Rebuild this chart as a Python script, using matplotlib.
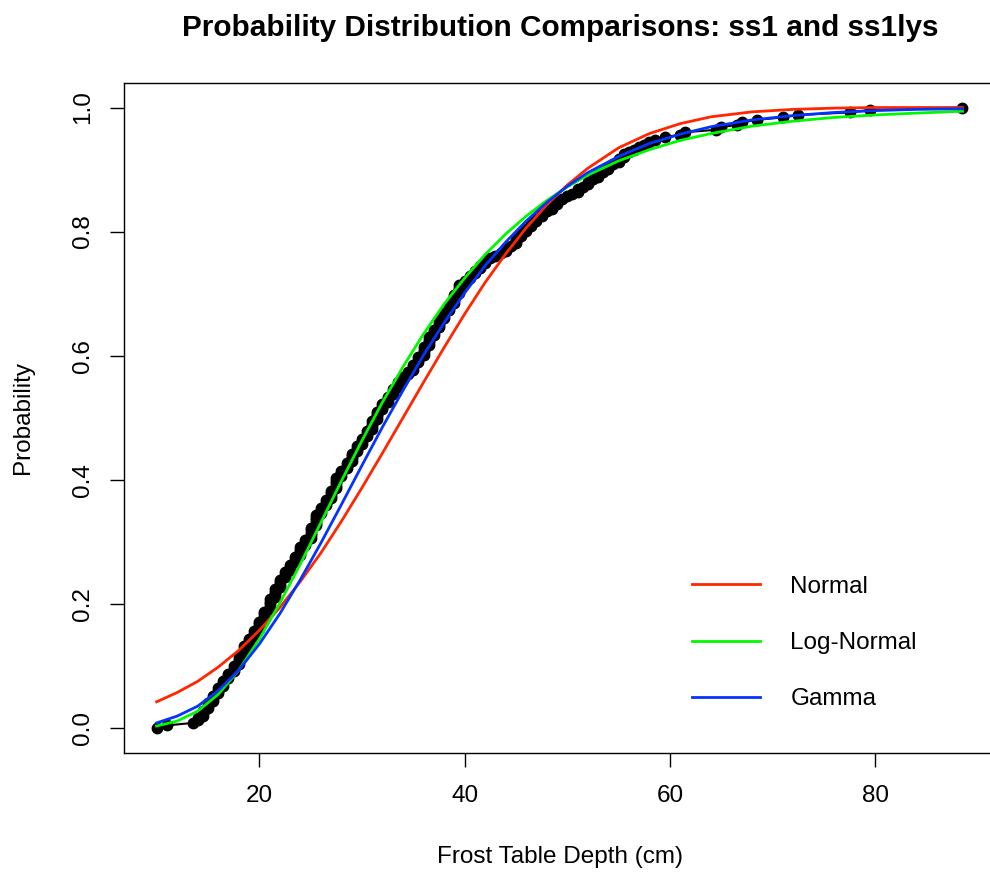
import numpy as np
import matplotlib
matplotlib.use("Agg")
import matplotlib.pyplot as plt

# frost table depths (cm), sorted, with number of ties at each value
depth_values = [10.0, 11.0, 13.5,
                14.0, 14.5, 15.0, 15.5, 16.0, 16.5, 17.0, 17.5,
                18.0, 18.5, 19.0, 19.5, 20.0, 20.5, 21.0, 21.5,
                22.0, 22.5, 23.0, 23.5, 24.0, 24.5, 25.0, 25.5,
                26.0, 26.5, 27.0, 27.5, 28.0, 28.5, 29.0, 29.5,
                30.0, 30.5, 31.0, 31.5, 32.0, 32.5, 33.0, 33.5,
                34.0, 34.5, 35.0, 35.5, 36.0, 36.5, 37.0, 37.5,
                38.0, 38.5, 39.0, 39.5, 40.0, 40.5, 41.0, 41.5,
                42.0, 42.5, 43.0, 43.5, 44.0, 44.5, 45.0, 45.5,
                46.0, 46.5, 47.0, 47.5, 48.0, 48.5, 49.0, 49.5,
                50.0, 50.5, 51.0, 51.5, 52.0, 52.5, 53.0, 53.5,
                54.0, 54.5, 55.0, 55.5,
                56.0, 56.5, 57.0, 57.5, 58.0, 58.5, 59.5, 61.0, 61.5,
                64.5, 65.0, 66.5, 67.0, 68.5, 71.0, 72.5, 77.5, 79.5, 88.5]
depth_counts = [1, 1, 1,
                2, 3, 3, 3, 3, 3, 3, 3,
                4, 4, 3, 3, 4, 4, 5, 4,
                4, 3, 3, 3, 4, 3, 5, 5,
                3, 3, 4, 5, 3, 3, 4, 3,
                3, 3, 4, 4, 3, 3, 3, 3,
                2, 2, 3, 3, 4, 4, 3, 4,
                3, 3, 4, 4, 2, 2, 2, 2,
                2, 1, 1, 1, 2, 1, 3, 2,
                2, 2, 2, 2, 1, 2, 2, 1,
                1, 1, 2, 1, 2, 1, 2, 1,
                2, 1, 2, 2,
                1, 1, 1, 1, 1, 1, 1, 1, 1,
                1, 1, 1, 1, 1, 1, 1, 1, 1, 1]

# fitted distribution curves
curve_x = [10, 12, 14, 16, 18, 20, 22, 24, 26, 28, 30, 32, 34, 36, 38, 40,
           42, 44, 46, 48, 50, 52, 55, 58, 61, 64, 68, 72, 76, 80, 84, 88.5]
normal_cdf = [0.042, 0.057, 0.075, 0.098, 0.125, 0.157, 0.194, 0.236, 0.282, 0.333,
              0.387, 0.443, 0.500, 0.557, 0.613, 0.667, 0.718, 0.764, 0.806, 0.843,
              0.875, 0.902, 0.935, 0.958, 0.974, 0.985, 0.993, 0.997, 0.999, 1.0,
              1.0, 1.0]
lognormal_cdf = [0.003, 0.011, 0.027, 0.054, 0.093, 0.143, 0.201, 0.264, 0.331, 0.398,
                 0.463, 0.525, 0.582, 0.635, 0.683, 0.725, 0.763, 0.796, 0.825, 0.850,
                 0.872, 0.891, 0.914, 0.932, 0.947, 0.958, 0.970, 0.978, 0.984, 0.988,
                 0.991, 0.994]
gamma_cdf = [0.008, 0.019, 0.035, 0.060, 0.093, 0.135, 0.184, 0.239, 0.298, 0.360,
             0.423, 0.485, 0.544, 0.601, 0.653, 0.701, 0.745, 0.783, 0.817, 0.847,
             0.873, 0.895, 0.921, 0.942, 0.957, 0.969, 0.980, 0.987, 0.992, 0.995,
             0.997, 0.998]

x_ticks = [20, 40, 60, 80]
y_ticks = [0.0, 0.2, 0.4, 0.6, 0.8, 1.0]

plt.rcParams['font.family'] = ['Liberation Sans', 'DejaVu Sans']

W, H = 990, 872
fig = plt.figure(figsize=(W / 100, H / 100), dpi=100)
# plot box in pixels: left 124, right 995 (runs past the edge), top 83, bottom 753
ax = fig.add_axes([124.4 / W, 1 - 752.7 / H, (994.7 - 124.4) / W, (752.7 - 82.7) / H])

depth = np.repeat(depth_values, depth_counts)
prob = np.arange(len(depth)) / (len(depth) - 1)

ax.plot(depth, prob, '-o', color='black', lw=1.5, ms=7.5, zorder=2)
l1, = ax.plot(curve_x, normal_cdf, color='#FF2600', lw=2.0, zorder=3, label='Normal')
l2, = ax.plot(curve_x, lognormal_cdf, color='#00F900', lw=2.0, zorder=3, label='Log-Normal')
l3, = ax.plot(curve_x, gamma_cdf, color='#0433FF', lw=2.0, zorder=3, label='Gamma')

# R style 4% padding
span = depth.max() - depth.min()
ax.set_xlim(depth.min() - 0.04 * span, depth.max() + 0.04 * span)
ax.set_ylim(-0.04, 1.04)

ax.set_xticks(x_ticks)
ax.set_xticklabels([str(v) for v in x_ticks])
ax.set_yticks(y_ticks)
ax.set_yticklabels(['%.1f' % v for v in y_ticks], rotation=90, va='center')
ax.tick_params(direction='out', length=10, width=1, labelsize=17.5, color='black')
ax.tick_params(axis='x', pad=13)
ax.tick_params(axis='y', pad=12)
for s in ax.spines.values():
    s.set_linewidth(1.0)
    s.set_color('black')

fig.text(560 / W, 1 - 28 / H, 'Probability Distribution Comparisons: ss1 and ss1lys',
         ha='center', va='center', fontsize=21.4, fontweight='bold')
fig.text(560 / W, 1 - 857 / H, 'Frost Table Depth (cm)', ha='center', va='center', fontsize=17.5)
fig.text(22.5 / W, 1 - 417 / H, 'Probability', ha='center', va='center', rotation=90, fontsize=17.5)

ax.legend(handles=[l1, l2, l3], loc='center left', bbox_to_anchor=(692 / W, 1 - 643 / H),
          bbox_transform=fig.transFigure, frameon=False, fontsize=17.5,
          handlelength=2.8, handletextpad=1.25, labelspacing=1.4,
          borderpad=0, borderaxespad=0)

fig.savefig('out.png', dpi=100)
